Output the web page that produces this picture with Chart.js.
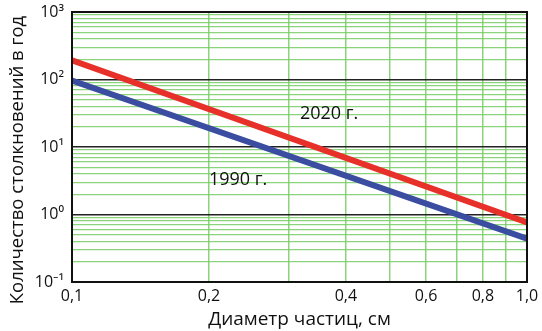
<!DOCTYPE html>
<html>
<head>
<meta charset="utf-8">
<script src="https://cdn.jsdelivr.net/npm/chart.js@4"></script>
<style>
  html, body { margin: 0; padding: 0; background: #fff; }
  #wrap { width: 542px; height: 331px; }
</style>
</head>
<body>
<div id="wrap"><canvas id="grafico"></canvas></div>
<script>
// Данные графика (чтение с картинки)
const diametros = [0.1, 1.0];
const serie2020 = [192, 0.76];
const serie1990 = [96, 0.44];
const xTicks = [0.1, 0.2, 0.3, 0.4, 0.5, 0.6, 0.7, 0.8, 0.9, 1.0];
const xLabels = { 0.1: '0,1', 0.2: '0,2', 0.4: '0,4', 0.6: '0,6', 0.8: '0,8', 1.0: '1,0' };
const yLabels = { '-1': '10⁻¹', '0': '10⁰', '1': '10¹', '2': '10²', '3': '10³' };
const etiquetas = [
  { text: '2020 г.', x: 0.317, y: 31 },
  { text: '1990 г.', x: 0.2, y: 3.3 }
];
const tituloY = 'Количество столкновений в год';

const FONT = "'Open Sans', 'Noto Sans', sans-serif";
const VERDE = 'rgba(120, 205, 100, 0.85)';

// Ticks del eje Y: 1..9 x 10^k
const yTicks = [];
for (let k = -1; k < 3; k++) {
  for (let m = 1; m < 10; m++) yTicks.push(m * Math.pow(10, k));
}
yTicks.push(1000);

function esDecada(v) {
  const l = Math.log10(v);
  return Math.abs(l - Math.round(l)) < 1e-9;
}

const textoPlugin = {
  id: 'textos',
  afterDatasetsDraw(chart) {
    const ctx = chart.ctx;
    ctx.save();
    ctx.font = '18px ' + FONT;
    ctx.fillStyle = '#111';
    ctx.textAlign = 'left';
    ctx.textBaseline = 'middle';
    etiquetas.forEach(function (e) {
      ctx.fillText(e.text, chart.scales.x.getPixelForValue(e.x), chart.scales.y.getPixelForValue(e.y));
    });
    // marco
    const a = chart.chartArea;
    ctx.strokeStyle = '#111';
    ctx.lineWidth = 2;
    ctx.strokeRect(a.left, a.top, a.right - a.left, a.bottom - a.top);
    // titulo del eje Y
    ctx.translate(18, 160);
    ctx.rotate(-Math.PI / 2);
    ctx.font = '18.5px ' + FONT;
    ctx.textAlign = 'center';
    ctx.fillText(tituloY, 0, 0);
    ctx.restore();
  }
};

new Chart(document.getElementById('grafico'), {
  type: 'line',
  data: {
    datasets: [
      {
        label: '2020 г.',
        data: diametros.map((x, i) => ({ x: x, y: serie2020[i] })),
        borderColor: '#e8302a',
        borderWidth: 6,
        pointRadius: 0,
        borderCapStyle: 'butt'
      },
      {
        label: '1990 г.',
        data: diametros.map((x, i) => ({ x: x, y: serie1990[i] })),
        borderColor: '#3a4da0',
        borderWidth: 6,
        pointRadius: 0,
        borderCapStyle: 'butt'
      }
    ]
  },
  options: {
    responsive: true,
    maintainAspectRatio: false,
    animation: false,
    layout: { padding: { left: 0, top: 12, right: 15, bottom: 0 } },
    plugins: { legend: { display: false }, tooltip: { enabled: false } },
    scales: {
      x: {
        type: 'logarithmic',
        min: 0.1,
        max: 1.0,
        afterBuildTicks: function (s) { s.ticks = xTicks.map(v => ({ value: v })); },
        afterFit: function (s) { s.height = 49; s.paddingLeft = 0; s.paddingRight = 0; },
        border: { display: false },
        grid: {
          color: ctx => (ctx.tick && (ctx.tick.value === 0.1 || ctx.tick.value === 1.0)) ? '#111' : VERDE,
          lineWidth: 1.5,
          drawTicks: false
        },
        ticks: {
          autoSkip: false,
          maxRotation: 0,
          padding: 5,
          color: '#111',
          font: { family: FONT, size: 16 },
          callback: function (v) { return xLabels[Math.round(v * 10) / 10] || ''; }
        },
        title: {
          display: true,
          text: 'Диаметр частиц, см',
          color: '#111',
          font: { family: FONT, size: 19 },
          padding: { top: 0, bottom: 0 }
        }
      },
      y: {
        type: 'logarithmic',
        min: 0.1,
        max: 1000,
        afterBuildTicks: function (s) { s.ticks = yTicks.map(v => ({ value: v })); },
        afterFit: function (s) { s.width = 72; s.paddingTop = 0; s.paddingBottom = 0; },
        border: { display: false },
        grid: {
          color: ctx => (ctx.tick && esDecada(ctx.tick.value)) ? '#222' : VERDE,
          lineWidth: ctx => (ctx.tick && esDecada(ctx.tick.value)) ? 1.5 : 1.2,
          drawTicks: false
        },
        ticks: {
          autoSkip: false,
          padding: 8,
          color: '#111',
          font: { family: FONT, size: 16 },
          callback: function (v) {
            if (!esDecada(v)) return '';
            return yLabels[String(Math.round(Math.log10(v)))];
          }
        },
        title: { display: false }
      }
    }
  },
  plugins: [textoPlugin]
});
</script>
</body>
</html>
